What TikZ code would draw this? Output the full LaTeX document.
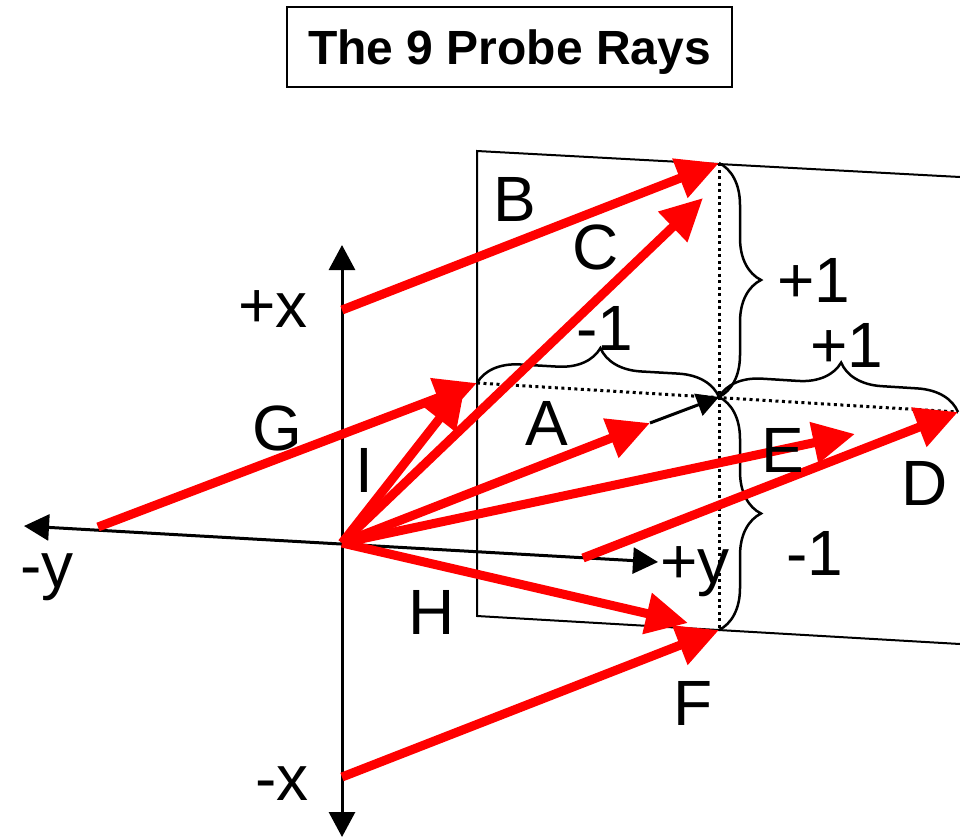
\documentclass[tikz,border=0pt]{standalone}
\usepackage{fontspec}
\setmainfont{Liberation Sans}
\usepackage{xcolor}
\definecolor{rayred}{HTML}{FF0000}
\usetikzlibrary{arrows.meta,decorations.pathreplacing}

\begin{document}
\begin{tikzpicture}[
    x=1pt, y=-1pt,
    title/.style={draw, line width=2pt, minimum width=445pt, minimum height=80pt, inner sep=0pt, text depth=0pt, font=\fontsize{48}{56}\selectfont\bfseries},
    lbl/.style={inner sep=0pt, font=\fontsize{64}{70}\selectfont},
    axis/.style={line width=3pt},
    ray/.style={line width=9pt, rayred, -{Triangle[length=42pt,width=40pt]}},
    plane/.style={line width=2pt},
    grid/.style={line width=3pt, dash pattern=on 3pt off 3.5pt},
    brc/.style={line width=2.5pt, decorate, decoration={brace, amplitude=42pt}}
]
\useasboundingbox (0,0) rectangle (960,838);

\node[title] (ttl) at (509.5,47) {The 9 Probe Rays};

% plane and its grid
\coordinate (pa) at (960,177);
\coordinate (pb) at (477,151);
\coordinate (pc) at (477,616);
\coordinate (pd) at (960,644);
\coordinate (gt) at (719,163);
\coordinate (gb) at (719,630);
\coordinate (gl) at (477,383);
\coordinate (gr) at (958,412);
\coordinate (ctr) at (719,397);
\draw[plane] (pa) -- (pb) -- (pc) -- (pd);
\draw[grid] (gt) -- (gb);
\draw[grid] (gl) -- (gr);

\draw[brc] (gt) -- (ctr);
\draw[brc] (ctr) -- (gb);
\draw[brc] (gl) -- (ctr);
\draw[brc] (ctr) -- (gr);

% axes
\coordinate (O) at (342,543);
\coordinate (xp) at (342,245);
\coordinate (xm) at (342,837);
\coordinate (ym) at (24,526);
\coordinate (yp) at (658,562);
\draw[axis, {Triangle[length=25pt,width=26pt]}-{Triangle[length=25pt,width=26pt]}] (xp) -- (xm);
\draw[axis, {Triangle[length=25pt,width=26pt]}-{Triangle[length=25pt,width=26pt]}] (ym) -- (yp);

% ray starts and ends
\coordinate (sB) at (342,310);
\coordinate (sF) at (342,777);
\coordinate (sG) at (98,527);
\coordinate (sD) at (583,558);
\coordinate (eC) at (703,198);
\coordinate (eI) at (465,386);
\coordinate (eA) at (650,423);
\coordinate (eE) at (855,434);
\coordinate (eH) at (688,623);

\draw[ray] (sB) -- (gt);
\draw[ray] (O) -- (eC);
\draw[ray] (sG) -- (gl);
\draw[ray] (O) -- (eI);
\draw[ray] (O) -- (eA);
\draw[axis, -{Triangle[length=22pt,width=23pt]}] (eA) -- (ctr);
\draw[ray] (O) -- (eE);
\draw[ray] (sD) -- (gr);
\draw[ray] (O) -- (eH);
\draw[ray] (sF) -- (gb);

% labels
\node[lbl] (lB) at (515,199) {B};
\node[lbl] (lC) at (596,247) {C};
\node[lbl] (lG) at (277,428) {G};
\node[lbl] (lI) at (364,470) {I};
\node[lbl] (lA) at (547,423) {A};
\node[lbl] (lE) at (783,450) {E};
\node[lbl] (lD) at (925,483) {D};
\node[lbl] (lH) at (432,612) {H};
\node[lbl] (lF) at (693,703) {F};
\node[lbl] (nup) at (814,280) {+1};
\node[lbl] (nleft) at (605,328) {-1};
\node[lbl] (nright) at (847,345) {+1};
\node[lbl] (ndown) at (815,553) {-1};
\node[lbl, anchor=base west] (lxp) at (238,327) {+x};
\node[lbl, anchor=base west] (lxm) at (255,800) {-x};
\node[lbl, anchor=base west] (lyp) at (660,583) {+y};
\node[lbl, anchor=base west] (lym) at (20,587) {-y};
\end{tikzpicture}
\end{document}
